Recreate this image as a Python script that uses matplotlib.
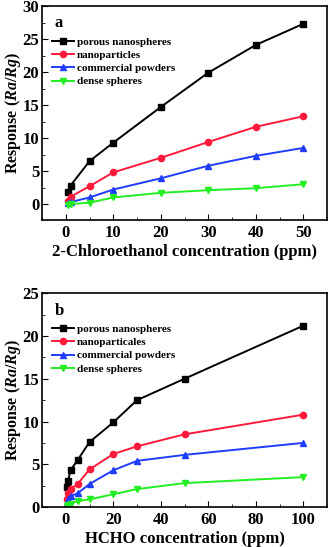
import matplotlib
matplotlib.use('Agg')
import matplotlib.pyplot as plt
from matplotlib.ticker import AutoMinorLocator

plt.rcParams['font.family'] = 'Liberation Serif'
plt.rcParams['font.weight'] = 'bold'
plt.rcParams['mathtext.fontset'] = 'custom'
plt.rcParams['mathtext.it'] = 'Liberation Serif:italic:bold'
plt.rcParams['mathtext.rm'] = 'Liberation Serif:bold'

labels_a = ['porous nanospheres', 'nanoparticles', 'commercial powders', 'dense spheres']
labels_b = ['porous nanospheres', 'nanoparticales', 'commercial powders', 'dense spheres']
colors = ['black', '#ff1a3c', '#1f3cff', '#22ee22']
markers = ['s', 'o', '^', 'v']

# panel a: 2-chloroethanol
conc_a = [0.5, 1, 5, 10, 20, 30, 40, 50]
porous_a = [1.8, 2.8, 6.5, 9.3, 14.7, 19.9, 24.1, 27.3]
particles_a = [0.5, 1.1, 2.7, 4.8, 7.0, 9.4, 11.7, 13.3]
commercial_a = [0.1, 0.3, 1.0, 2.2, 3.9, 5.8, 7.3, 8.5]
dense_a = [-0.1, 0.0, 0.2, 1.0, 1.7, 2.1, 2.4, 3.0]

# panel b: HCHO
conc_b = [0.5, 1, 2, 5, 10, 20, 30, 50, 100]
porous_b = [2.3, 3.1, 4.3, 5.5, 7.6, 9.9, 12.5, 15.0, 21.2]
particles_b = [1.0, 1.6, 2.1, 2.7, 4.4, 6.2, 7.1, 8.5, 10.8]
commercial_b = [0.5, 0.9, 1.3, 1.6, 2.7, 4.3, 5.4, 6.1, 7.5]
dense_b = [0.1, 0.2, 0.4, 0.7, 0.9, 1.5, 2.1, 2.8, 3.5]

fig = plt.figure(figsize=(3.31, 5.47), dpi=100)
ax1 = fig.add_axes([0.127, 0.598, 0.861, 0.391])
ax2 = fig.add_axes([0.127, 0.073, 0.861, 0.391])


def draw(ax, x, series, labels, letter):
    for y, lab, c, m in zip(series, labels, colors, markers):
        ax.plot(x, y, color=c, marker=m, markersize=4.5, linewidth=1.4, label=lab)
    ax.text(0.045, 0.9, letter, transform=ax.transAxes, fontsize=12, fontweight='bold')
    ax.legend(loc='upper left', bbox_to_anchor=(0.01, 0.885), frameon=False, fontsize=8,
              handlelength=2.0, handletextpad=0.25, labelspacing=0.3, borderaxespad=0.2)
    ax.set_ylabel(r'Response ($Ra/Rg$)', fontsize=11.5, fontweight='bold', labelpad=0)
    ax.xaxis.set_minor_locator(AutoMinorLocator(2))
    ax.yaxis.set_minor_locator(AutoMinorLocator(2))
    ax.tick_params(which='both', direction='in', top=False, right=False, labelsize=12)
    ax.tick_params(axis='y', pad=2)
    ax.tick_params(which='major', length=4)
    ax.tick_params(which='minor', length=2)
    for s in ax.spines.values():
        s.set_linewidth(1.2)


draw(ax1, conc_a, [porous_a, particles_a, commercial_a, dense_a], labels_a, 'a')
ax1.set_xlim(-5, 55)
ax1.set_ylim(-2.4, 30)
ax1.set_xticks([0, 10, 20, 30, 40, 50])
ax1.set_yticks([0, 5, 10, 15, 20, 25, 30])
ax1.set_xlabel('2-Chloroethanol concentration (ppm)', fontsize=12, fontweight='bold', labelpad=2)

draw(ax2, conc_b, [porous_b, particles_b, commercial_b, dense_b], labels_b, 'b')
ax2.set_xlim(-10, 110)
ax2.set_ylim(0, 25)
ax2.set_xticks([0, 20, 40, 60, 80, 100])
ax2.set_yticks([0, 5, 10, 15, 20, 25])
ax2.set_xlabel('HCHO concentration (ppm)', fontsize=12, fontweight='bold', labelpad=2)

fig.savefig('out.png', dpi=100)
